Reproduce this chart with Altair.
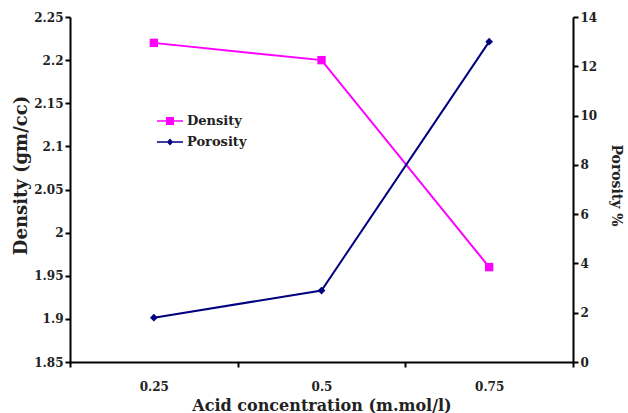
import altair as alt
import pandas as pd

concentration = ["0.25", "0.5", "0.75"]
density = [2.22, 2.20, 1.96]
porosity = [1.8, 2.9, 13.0]
density_ticks = [1.85, 1.9, 1.95, 2.0, 2.05, 2.1, 2.15, 2.2, 2.25]
porosity_ticks = [0, 2, 4, 6, 8, 10, 12, 14]
series = ["Density", "Porosity"]
colors = ["#FF00FF", "#000080"]

df = pd.DataFrame({"conc": concentration, "Density": density, "Porosity": porosity})

FONT = "DejaVu Serif"
TXT = "#222222"

x = alt.X("conc:O", sort=concentration, title="Acid concentration (m.mol/l)",
          scale=alt.Scale(paddingInner=0, paddingOuter=0),
          axis=alt.Axis(labelAngle=0, tickBand="extent", titlePadding=5, labelPadding=14,
                        titleFontSize=16))

y_den_scale = alt.Scale(domain=[1.85, 2.25], nice=False, zero=False)
y_den_axis = alt.Axis(values=density_ticks, format="~g", title="Density (gm/cc)",
                      titlePadding=3, titleFontSize=18, titleY=158)

base = alt.Chart(df)

den_line = base.mark_line(color=colors[0], strokeWidth=2).encode(
    x=x, y=alt.Y("Density:Q", scale=y_den_scale, axis=y_den_axis))
den_pts = base.mark_point(shape="square", filled=True, color=colors[0], size=70, opacity=1).encode(
    x=x, y=alt.Y("Density:Q", scale=y_den_scale, axis=y_den_axis))

path_sq = "M-1.86,-0.11H1.86V0.11H-1.86Z M-0.57,-0.57H0.57V0.57H-0.57Z"
path_di = "M-1.86,-0.11H1.86V0.11H-1.86Z M0,-0.5L0.45,0L0,0.5L-0.45,0Z"

legend_props = dict(title=None, orient="none", legendX=93, legendY=97,
                    symbolSize=196, symbolStrokeWidth=0, rowPadding=7,
                    labelFont=FONT, labelFontSize=13, labelFontWeight="bold",
                    labelColor=TXT, labelOffset=10)

legend_layer = base.transform_fold(["Density", "Porosity"], as_=["Series", "Value"]).transform_filter(
    "datum.Value < -1000").mark_point(filled=True, opacity=1).encode(
    x=x,
    y=alt.Y("Value:Q", scale=y_den_scale, axis=y_den_axis),
    color=alt.Color("Series:N", scale=alt.Scale(domain=series, range=colors),
                    legend=alt.Legend(**legend_props)),
    shape=alt.Shape("Series:N", scale=alt.Scale(domain=series, range=[path_sq, path_di]),
                    legend=alt.Legend(**legend_props)),
)

y_por_scale = alt.Scale(domain=[0, 14], nice=False)
y_por_axis = alt.Axis(values=porosity_ticks, orient="right", title="Porosity %",
                      titlePadding=12, titleFontSize=14, titleY=168)

por_line = base.mark_line(color=colors[1], strokeWidth=2).encode(
    x=x, y=alt.Y("Porosity:Q", scale=y_por_scale, axis=y_por_axis))
por_pts = base.mark_point(shape="diamond", filled=True, color=colors[1], size=60, opacity=1).encode(
    x=x, y=alt.Y("Porosity:Q", scale=y_por_scale, axis=y_por_axis))

den_layer = alt.layer(den_line, den_pts, legend_layer)
por_layer = alt.layer(por_line, por_pts)

chart = alt.layer(den_layer, por_layer).resolve_scale(y="independent").properties(
    width=503, height=345,
    autosize=alt.AutoSizeParams(type="none"),
    padding={"left": 70, "top": 17, "right": 55, "bottom": 51},
    background="white",
).configure_view(stroke=None).configure_axis(
    domainColor="black", domainWidth=2, tickColor="black", tickWidth=2, tickSize=5,
    labelFont=FONT, labelFontSize=12, labelFontWeight="bold", labelColor=TXT,
    titleFont=FONT, titleFontWeight="bold", titleColor=TXT,
    grid=False,
)

chart.save("out.html", embed_options={"renderer": "svg", "actions": False})
